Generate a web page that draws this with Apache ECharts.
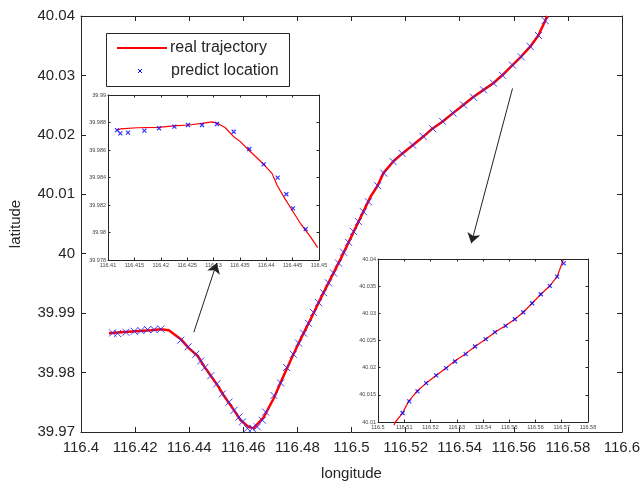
<!DOCTYPE html>
<html lang="en">
<head>
    <meta charset="UTF-8">
    <title>trajectory</title>
    <style>
        * {
            margin: 0;
            padding: 0;
        }

        html, body {
            height: 100%;
            width: 100%;
            background: #fff;
        }
    </style>
    <script src="https://cdn.jsdelivr.net/npm/echarts@6/dist/echarts.min.js"></script>
</head>
<body>

<div id="main" style="width: 644px;height: 486px;"></div>

<script>
    // main plot: real trajectory
    var realLon = [116.41033, 116.41476, 116.42030, 116.42583, 116.42952, 116.43247, 116.43690, 116.43985, 116.44317, 116.44539,
        116.44797, 116.45055, 116.45277, 116.45609, 116.45904, 116.46199, 116.46384, 116.46753, 116.47122, 116.47491,
        116.47823, 116.48118, 116.48487, 116.48856, 116.49225, 116.49594, 116.49963, 116.50332, 116.50701, 116.50959,
        116.51181, 116.51550, 116.51882, 116.52251, 116.52657, 116.52989, 116.53358, 116.53764, 116.54133, 116.54502,
        116.54871, 116.55240, 116.55572, 116.55941, 116.56273, 116.56605, 116.56900, 116.57159, 116.57232];
    var realLat = [39.98662, 39.98678, 39.98695, 39.98712, 39.98728, 39.98712, 39.98562, 39.98412, 39.98279, 39.98113,
        39.97947, 39.97780, 39.97614, 39.97398, 39.97198, 39.97082, 39.97065, 39.97248, 39.97564, 39.97947,
        39.98279, 39.98562, 39.98895, 39.99244, 39.99576, 39.99909, 40.00258, 40.00607, 40.00957, 40.01140,
        40.01356, 40.01555, 40.01688, 40.01821, 40.01971, 40.02104, 40.02221, 40.02370, 40.02503, 40.02636,
        40.02753, 40.02869, 40.03002, 40.03168, 40.03318, 40.03484, 40.03667, 40.03917, 40.04000];

    // main plot: predicted locations
    var predLon = [116.41170, 116.41354, 116.41661, 116.41967, 116.42214, 116.42461, 116.42705, 116.42952, 116.43690, 116.43959,
        116.44244, 116.44428, 116.44576, 116.44797, 116.45018, 116.45229, 116.45472, 116.45657, 116.45841, 116.45967,
        116.46151, 116.46336, 116.46520, 116.46705, 116.46827, 116.47133, 116.47380, 116.47601, 116.47849, 116.48044,
        116.48229, 116.48413, 116.48598, 116.48782, 116.48967, 116.49151, 116.49336, 116.49520, 116.49705, 116.49889,
        116.50074, 116.50258, 116.50443, 116.50627, 116.50970, 116.51192, 116.51539, 116.51871, 116.52262, 116.52646,
        116.53000, 116.53369, 116.53753, 116.54144, 116.54513, 116.54882, 116.55251, 116.55583, 116.55952, 116.56273,
        116.56605, 116.56911, 116.57159];
    var predLat = [39.98667, 39.98657, 39.98678, 39.98695, 39.98707, 39.98723, 39.98723, 39.98733, 39.98545, 39.98434,
        39.98308, 39.98196, 39.98085, 39.97947, 39.97809, 39.97642, 39.97503, 39.97365, 39.97253, 39.97170,
        39.97060, 39.97060, 39.97087, 39.97198, 39.97336, 39.97614, 39.97825, 39.98085, 39.98308, 39.98495,
        39.98662, 39.98828, 39.99011, 39.99177, 39.99344, 39.99510, 39.99676, 39.99842, 40.00025, 40.00192,
        40.00375, 40.00541, 40.00707, 40.00874, 40.01145, 40.01356, 40.01550, 40.01688, 40.01826, 40.01976,
        40.02104, 40.02226, 40.02365, 40.02503, 40.02631, 40.02758, 40.02869, 40.03002, 40.03173, 40.03313,
        40.03489, 40.03672, 40.03922];

    // inset 1 (upper left)
    var in1RealLon = [116.41171, 116.41234, 116.41550, 116.41961, 116.42245, 116.42529, 116.42782, 116.42972, 116.43066, 116.43224,
        116.43382, 116.43509, 116.43667, 116.43951, 116.44109, 116.44204, 116.44330, 116.44488, 116.44646, 116.44836, 116.44975];
    var in1RealLat = [39.98745, 39.98753, 39.98762, 39.98765, 39.98775, 39.98782, 39.98794, 39.98804, 39.98796, 39.98762,
        39.98697, 39.98661, 39.98600, 39.98496, 39.98430, 39.98345, 39.98261, 39.98164, 39.98067, 39.97970, 39.97890];
    var in1PredLon = [116.41171, 116.41234, 116.41379, 116.41689, 116.41967, 116.42258, 116.42517, 116.42782, 116.43066, 116.43382,
        116.43679, 116.43951, 116.44216, 116.44381, 116.44507, 116.44747];
    var in1PredLat = [39.98745, 39.98721, 39.98726, 39.98741, 39.98758, 39.98770, 39.98782, 39.98782, 39.98789, 39.98733,
        39.98607, 39.98496, 39.98399, 39.98278, 39.98176, 39.98025];

    // inset 2 (lower right)
    var in2RealLon = [116.50610, 116.50658, 116.50937, 116.51165, 116.51506, 116.51835, 116.52215, 116.52595, 116.52937, 116.53316,
        116.53696, 116.54101, 116.54456, 116.54835, 116.55215, 116.55532, 116.55873, 116.56203, 116.56544, 116.56823,
        116.56987, 116.57051];
    var in2RealLat = [40.00940, 40.01000, 40.01165, 40.01380, 40.01576, 40.01716, 40.01857, 40.01992, 40.02127, 40.02249,
        40.02390, 40.02524, 40.02653, 40.02769, 40.02892, 40.03020, 40.03186, 40.03351, 40.03504, 40.03676,
        40.03890, 40.03982];
    var in2PredLon = [116.50937, 116.51190, 116.51506, 116.51835, 116.52215, 116.52595, 116.52937, 116.53342, 116.53696, 116.54101,
        116.54456, 116.54861, 116.55215, 116.55532, 116.55873, 116.56203, 116.56544, 116.56823, 116.57076];
    var in2PredLat = [40.01165, 40.01380, 40.01563, 40.01716, 40.01857, 40.01992, 40.02114, 40.02249, 40.02390, 40.02524,
        40.02653, 40.02769, 40.02892, 40.03020, 40.03186, 40.03351, 40.03504, 40.03676, 40.03920];

    function zip(a, b) {
        return a.map(function (v, i) {
            return [v, b[i]];
        });
    }

    var FONT = 'Liberation Sans, Arial, sans-serif';
    var AXIS_COLOR = '#262626';
    var crossPath = 'path://M0,0L10,10M10,0L0,10';

    // bottom/left axes carry labels, top/right only ticks
    function axis(gridIndex, min, max, interval, pos, big) {
        var showLabel = (pos === 'bottom' || pos === 'left');
        return {
            type: 'value',
            gridIndex: gridIndex,
            position: pos,
            min: min,
            max: max,
            interval: interval,
            splitLine: {show: false},
            axisLine: {show: true, onZero: false, lineStyle: {color: AXIS_COLOR, width: 1}},
            axisTick: {show: true, inside: true, length: big ? 5 : 2.5, lineStyle: {color: AXIS_COLOR}},
            axisLabel: {
                show: showLabel,
                interval: 0,
                showMinLabel: true,
                showMaxLabel: true,
                color: big ? AXIS_COLOR : '#444',
                fontFamily: FONT,
                fontSize: big ? 15 : 5.5,
                margin: big ? (pos === 'bottom' ? 8 : 6) : 2
            }
        };
    }

    var xMain = axis(0, 116.4, 116.6, 0.02, 'bottom', true);
    xMain.name = 'longitude';
    xMain.nameLocation = 'middle';
    xMain.nameGap = 34;
    xMain.nameTextStyle = {color: AXIS_COLOR, fontFamily: FONT, fontSize: 15};
    var yMain = axis(0, 39.97, 40.04, 0.01, 'left', true);
    yMain.name = 'latitude';
    yMain.nameLocation = 'middle';
    yMain.nameGap = 58;
    yMain.nameTextStyle = {color: AXIS_COLOR, fontFamily: FONT, fontSize: 15};

    // arrows pointing at the insets, in data coordinates
    var arrowLines = [
        [[116.44170, 39.98678], [116.45018, 39.99843]],
        [[116.55952, 40.02781], [116.54428, 40.00175]]
    ];

    var myChart = echarts.init(document.getElementById('main'));

    var option = {
        animation: false,
        backgroundColor: '#fff',
        grid: [
            {left: 80, right: 22, top: 16, bottom: 49},
            {left: 108, top: 95, width: 211, height: 165, show: true, backgroundColor: '#fff', borderWidth: 0},
            {left: 378, top: 259, width: 210, height: 163, show: true, backgroundColor: '#fff', borderWidth: 0}
        ],
        xAxis: [
            xMain,
            axis(0, 116.4, 116.6, 0.02, 'top', true),
            axis(1, 116.41, 116.45, 0.005, 'bottom', false),
            axis(1, 116.41, 116.45, 0.005, 'top', false),
            axis(2, 116.5, 116.58, 0.01, 'bottom', false),
            axis(2, 116.5, 116.58, 0.01, 'top', false)
        ],
        yAxis: [
            yMain,
            axis(0, 39.97, 40.04, 0.01, 'right', true),
            axis(1, 39.978, 39.99, 0.002, 'left', false),
            axis(1, 39.978, 39.99, 0.002, 'right', false),
            axis(2, 40.01, 40.04, 0.005, 'left', false),
            axis(2, 40.01, 40.04, 0.005, 'right', false)
        ],
        graphic: [
            {
                type: 'rect', z: 100,
                shape: {x: 106.5, y: 33.5, width: 183, height: 53},
                style: {fill: '#fff', stroke: AXIS_COLOR, lineWidth: 1}
            },
            {
                type: 'line', z: 101,
                shape: {x1: 117, y1: 48, x2: 167, y2: 48},
                style: {stroke: '#ff0000', lineWidth: 2}
            },
            {
                type: 'text', z: 101, x: 170, y: 48,
                style: {text: 'real trajectory', fill: AXIS_COLOR, font: '16px ' + FONT, verticalAlign: 'middle'}
            },
            {
                type: 'line', z: 101,
                shape: {x1: 138, y1: 69, x2: 142, y2: 73},
                style: {stroke: '#0000ff', lineWidth: 1}
            },
            {
                type: 'line', z: 101,
                shape: {x1: 142, y1: 69, x2: 138, y2: 73},
                style: {stroke: '#0000ff', lineWidth: 1}
            },
            {
                type: 'text', z: 101, x: 171, y: 71,
                style: {text: 'predict location', fill: AXIS_COLOR, font: '16px ' + FONT, verticalAlign: 'middle'}
            }
        ],
        series: [
            {
                name: 'real trajectory',
                type: 'line',
                xAxisIndex: 0,
                yAxisIndex: 0,
                data: zip(realLon, realLat),
                symbol: 'none',
                lineStyle: {color: '#ff0000', width: 2.5},
                z: 2,
                markLine: {
                    silent: true,
                    symbol: ['none', 'arrow'],
                    symbolSize: 10,
                    label: {show: false},
                    lineStyle: {color: '#222', width: 1, type: 'solid'},
                    itemStyle: {color: '#111'},
                    data: arrowLines.map(function (p) {
                        return [{coord: p[0]}, {coord: p[1]}];
                    })
                }
            },
            {
                name: 'predict location',
                type: 'scatter',
                xAxisIndex: 0,
                yAxisIndex: 0,
                data: zip(predLon, predLat),
                symbol: crossPath,
                symbolSize: 7,
                itemStyle: {color: 'none', borderColor: '#2a2aff', borderWidth: 1, opacity: 0.9},
                z: 3
            },
            {
                type: 'line',
                xAxisIndex: 2,
                yAxisIndex: 2,
                data: zip(in1RealLon, in1RealLat),
                symbol: 'none',
                lineStyle: {color: '#ff0000', width: 1.2},
                z: 5
            },
            {
                type: 'scatter',
                xAxisIndex: 2,
                yAxisIndex: 2,
                data: zip(in1PredLon, in1PredLat),
                symbol: crossPath,
                symbolSize: 4,
                itemStyle: {color: 'none', borderColor: '#0000ff', borderWidth: 1.2},
                z: 6
            },
            {
                type: 'line',
                xAxisIndex: 4,
                yAxisIndex: 4,
                data: zip(in2RealLon, in2RealLat),
                symbol: 'none',
                clip: false,
                lineStyle: {color: '#ff0000', width: 1.2},
                z: 5
            },
            {
                type: 'scatter',
                xAxisIndex: 4,
                yAxisIndex: 4,
                data: zip(in2PredLon, in2PredLat),
                symbol: crossPath,
                symbolSize: 4,
                itemStyle: {color: 'none', borderColor: '#0000ff', borderWidth: 1.2},
                z: 6
            }
        ]
    };
    myChart.setOption(option);
</script>

</body>
</html>
